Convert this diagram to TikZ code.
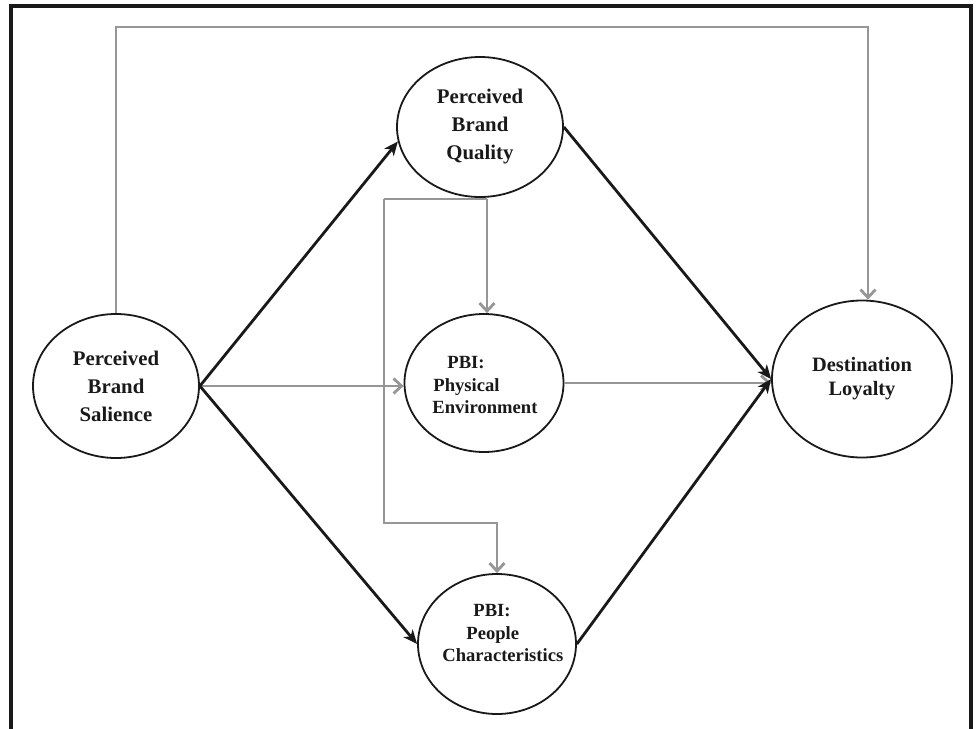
\documentclass[tikz,border=0pt]{standalone}
\usepackage{fontspec}
\setmainfont{Liberation Serif}
\usetikzlibrary{arrows.meta,shapes.geometric,calc}
\definecolor{linkgray}{RGB}{150,150,150}
\definecolor{inkblack}{RGB}{25,25,25}
\begin{document}
\begin{tikzpicture}[x=0.5pt,y=-0.5pt,
  ell/.style={draw=inkblack, line width=0.9pt, ellipse, inner sep=0pt, align=center, text=inkblack,
              font=\bfseries\fontsize{10.4}{14}\selectfont},
  lbl/.style={inner sep=0pt, align=left, anchor=west, text=inkblack, font=\bfseries\fontsize{9.3}{11.2}\selectfont},
  blk/.style={draw=inkblack, line width=1.4pt, -{Stealth[length=7pt,width=6pt,inset=2pt]}},
  gry/.style={draw=linkgray, line width=1.4pt},
  gryarr/.style={gry, -{Straight Barb[length=4pt,width=7.5pt]}},
  frame/.style={draw=inkblack, line width=1.6pt}
]
\useasboundingbox (0,0) rectangle (976,729);
\draw[frame] (11,729) -- (11,6) -- (971,6) -- (971,729);

% ellipses
\node[ell, minimum width=83pt, minimum height=72pt] (sal) at (116,386) {Perceived\\Brand\\Salience};
\node[ell, minimum width=83pt, minimum height=70pt] (qual) at (480,127) {Perceived\\Brand\\Quality};
\node[ell, minimum width=79.5pt, minimum height=69pt] (phy) at (484,383) {};
\node[ell, minimum width=79pt, minimum height=70pt] (ppl) at (497,644) {};
\node[ell, minimum width=90pt, minimum height=78.5pt, font=\bfseries\fontsize{10.2}{12}\selectfont] (loy) at (862,379) {Destination\\Loyalty};

% texts of the PBI ellipses
\node[lbl] (phyT) at (432,385) {\hspace*{7.5pt}PBI:\\\hspace*{0.5pt}Physical\\Environment};
\node[lbl] (pplT) at (442,633) {\hspace*{15.5pt}PBI:\\\hspace*{12pt}People\\Characteristics};

% helper points
\coordinate (tr) at (868,27);
\coordinate (ql) at (384,199);
\coordinate (qr) at (487,199);
\coordinate (pc) at (384,523);

% gray connectors
\draw[gryarr] (sal.north) |- (tr) -- (tr |- loy.north);
\draw[gry] (ql) -- (qr);
\draw[gryarr] (qr) -- (qr |- phy.north);
\draw[gryarr] (ql) -- (pc) -| (ppl.north);
\draw[gryarr] (sal.east) -- (sal.east -| phy.west);
\draw[gryarr] (phy.east) -- (phy.east -| loy.west);

% black connectors
\draw[blk] (sal.east) -- (qual.190);
\draw[blk] (sal.east) -- (ppl.west);
\draw[blk] (qual.east) -- (loy.west);
\draw[blk] (ppl.east) -- (loy.west);
\end{tikzpicture}
\end{document}
